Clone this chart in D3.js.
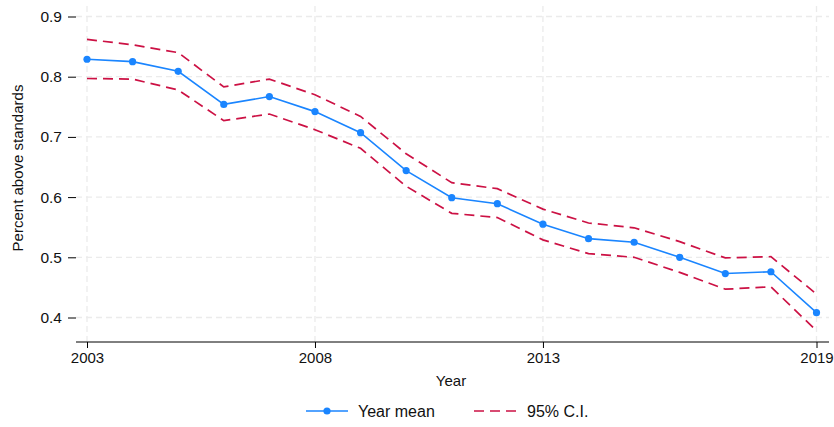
<!DOCTYPE html>
<html>
<head>
<meta charset="utf-8">
<script src="https://cdn.jsdelivr.net/npm/d3@7"></script>
<style>
  html, body { margin: 0; padding: 0; background: #fff; }
  svg { display: block; font-family: "Liberation Sans", Arial, sans-serif; }
</style>
</head>
<body>
<svg id="chart" width="834" height="427"></svg>
<script>
// Share of students above standards, by year, with 95% confidence band
const years = [2003, 2004, 2005, 2006, 2007, 2008, 2009, 2010, 2011, 2012, 2013, 2014, 2015, 2016, 2017, 2018, 2019];
const yearMean = [0.829, 0.825, 0.809, 0.754, 0.767, 0.742, 0.707, 0.644, 0.599, 0.589, 0.555, 0.531, 0.525, 0.500, 0.473, 0.476, 0.408];
const ciUpper = [0.862, 0.853, 0.840, 0.783, 0.796, 0.770, 0.734, 0.672, 0.624, 0.614, 0.580, 0.557, 0.549, 0.526, 0.499, 0.501, 0.439];
const ciLower = [0.797, 0.796, 0.778, 0.727, 0.738, 0.712, 0.681, 0.618, 0.573, 0.566, 0.529, 0.506, 0.500, 0.475, 0.447, 0.451, 0.378];
const xTicks = [2003, 2008, 2013, 2019];
const yTicks = [0.4, 0.5, 0.6, 0.7, 0.8, 0.9];

const blue = "#1a85ff";
const red = "#cc1144";

const svg = d3.select("#chart");
const x = d3.scaleLinear().domain([2003, 2019]).range([87, 816.5]);
const y = d3.scaleLinear().domain([0.4, 0.9]).range([317.5, 16.5]);
const plotLeft = 76, plotRight = 829, axisY = 342;

// grid
const grid = svg.append("g").attr("stroke", "#ebebeb").attr("stroke-width", 1.3)
  .attr("stroke-dasharray", "6,4").attr("fill", "none");
grid.selectAll("line.h").data(yTicks).join("line")
  .attr("x1", plotLeft).attr("x2", plotRight)
  .attr("y1", d => y(d)).attr("y2", d => y(d));
grid.selectAll("line.v").data(xTicks).join("line")
  .attr("y1", 6).attr("y2", axisY)
  .attr("x1", d => x(d)).attr("x2", d => x(d));

// y axis (ticks and labels only)
const yAxis = d3.axisLeft(y).tickValues(yTicks).tickFormat(d3.format(".1f")).tickSize(8).tickPadding(6);
const gy = svg.append("g").attr("transform", `translate(${plotLeft},0)`).call(yAxis);
gy.select(".domain").remove();
gy.selectAll("line").attr("stroke", "#000");
gy.selectAll("text").attr("font-size", 15.5).attr("fill", "#111").attr("font-family", "Liberation Sans, Arial, sans-serif");

// x axis
const xAxis = d3.axisBottom(x).tickValues(xTicks).tickFormat(d3.format("d")).tickSize(6).tickPadding(4);
const gx = svg.append("g").attr("transform", `translate(0,${axisY})`).call(xAxis);
gx.select(".domain").attr("d", `M${plotLeft},0H${plotRight}`).attr("stroke", "#000");
gx.selectAll("line").attr("stroke", "#000");
gx.selectAll("text").attr("font-size", 15).attr("fill", "#111").attr("font-family", "Liberation Sans, Arial, sans-serif");

// axis titles
svg.append("text").attr("x", 451).attr("y", 386).attr("text-anchor", "middle")
  .attr("font-size", 15).attr("fill", "#111").text("Year");
svg.append("text").attr("transform", "translate(23,168) rotate(-90)").attr("text-anchor", "middle")
  .attr("font-size", 15).attr("fill", "#111").text("Percent above standards");

// lines
const line = vals => d3.line().x((d, i) => x(years[i])).y(d => y(d))(vals);
[ciUpper, ciLower].forEach(vals => {
  svg.append("path").attr("d", line(vals)).attr("fill", "none")
    .attr("stroke", red).attr("stroke-width", 1.7).attr("stroke-dasharray", "10,6");
});
svg.append("path").attr("d", line(yearMean)).attr("fill", "none")
  .attr("stroke", blue).attr("stroke-width", 1.6);
svg.selectAll("circle.pt").data(yearMean).join("circle")
  .attr("cx", (d, i) => x(years[i])).attr("cy", d => y(d)).attr("r", 3.6).attr("fill", blue);

// legend
const lg = svg.append("g").attr("transform", "translate(0,411)");
lg.append("line").attr("x1", 306).attr("x2", 348).attr("y1", 0).attr("y2", 0)
  .attr("stroke", blue).attr("stroke-width", 1.6);
lg.append("circle").attr("cx", 327).attr("cy", 0).attr("r", 3.6).attr("fill", blue);
lg.append("text").attr("x", 358).attr("y", 6).attr("font-size", 16).attr("fill", "#111").text("Year mean");
lg.append("line").attr("x1", 474).attr("x2", 516).attr("y1", 0).attr("y2", 0)
  .attr("stroke", red).attr("stroke-width", 1.7).attr("stroke-dasharray", "10,6");
lg.append("text").attr("x", 527).attr("y", 6).attr("font-size", 16).attr("fill", "#111").text("95% C.I.");
</script>
</body>
</html>
